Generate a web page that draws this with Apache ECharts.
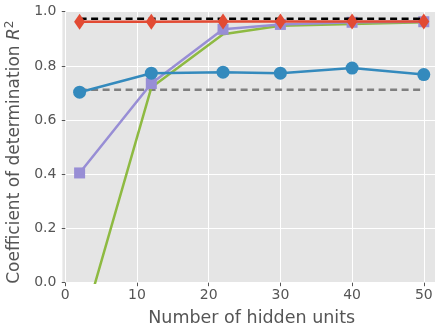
<!DOCTYPE html>
<html>
<head>
<meta charset="utf-8">
<script src="https://cdn.jsdelivr.net/npm/echarts@6/dist/echarts.min.js"></script>
<style>
  html, body { margin: 0; padding: 0; background: #ffffff; }
  #chart { width: 435px; height: 324px; }
</style>
</head>
<body>
<div id="chart"></div>
<script>
// Hidden-unit counts tried
const hiddenUnits = [2, 12, 22, 30, 40, 50];

// R^2 per model
const r2Diamond = [0.963, 0.963, 0.964, 0.964, 0.964, 0.964];
const r2Circle  = [0.703, 0.773, 0.777, 0.773, 0.792, 0.768];
const r2Square  = [0.405, 0.735, 0.935, 0.953, 0.961, 0.963];
const r2Green   = [-0.20, 0.720, 0.917, 0.948, 0.955, 0.961];

// Reference levels
const refBlack = 0.974;
const refGray  = 0.712;

const xTicks = [0, 10, 20, 30, 40, 50];

const pairs = (xs, ys) => xs.map((x, i) => [x, ys[i]]);
const flat = (v) => [[hiddenUnits[0], v], [hiddenUnits[hiddenUnits.length - 1], v]];

const TICK = '#555555';
const FONT = 'DejaVu Sans';

const chart = echarts.init(document.getElementById('chart'), null, { renderer: 'canvas' });

chart.setOption({
  animation: false,
  backgroundColor: '#ffffff',
  grid: {
    left: 62.4, right: -6, top: 11.7, bottom: 41.3,
    containLabel: false, outerBoundsMode: 'none',
    show: true, backgroundColor: '#e5e5e5', borderWidth: 0
  },
  xAxis: {
    type: 'value',
    min: -0.4, max: 52.4,
    name: 'Number of hidden units',
    nameLocation: 'middle',
    nameGap: 27,
    nameTextStyle: { color: TICK, fontFamily: FONT, fontSize: 17.5 },
    axisLine: { show: false },
    axisTick: { show: true, customValues: xTicks, length: 3.5, lineStyle: { color: TICK, width: 1 } },
    axisLabel: { customValues: xTicks, color: TICK, fontFamily: FONT, fontSize: 14, margin: 6 },
    splitLine: { show: true, lineStyle: { color: '#ffffff', width: 1 } }
  },
  yAxis: {
    type: 'value',
    min: 0, max: 1, interval: 0.2,
    name: '{a|Coefficient of determination }{i|R}{s|2}',
    nameLocation: 'middle',
    nameGap: 36,
    nameRotate: 90,
    nameTextStyle: {
      color: TICK, fontFamily: FONT, fontSize: 17,
      padding: [0, 10, 0, 0],
      rich: {
        a: { color: TICK, fontFamily: FONT, fontSize: 17, lineHeight: 22 },
        i: { color: TICK, fontFamily: FONT, fontSize: 17, fontStyle: 'italic', lineHeight: 22 },
        s: { color: TICK, fontFamily: FONT, fontSize: 12, verticalAlign: 'top', lineHeight: 22 }
      }
    },
    axisLine: { show: false },
    axisTick: { show: true, length: 3.5, lineStyle: { color: TICK, width: 1 } },
    axisLabel: {
      color: TICK, fontFamily: FONT, fontSize: 14, margin: 6,
      formatter: (v) => v.toFixed(1)
    },
    splitLine: { show: true, lineStyle: { color: '#ffffff', width: 1 } }
  },
  series: [
    {
      type: 'line', data: flat(refGray), symbol: 'none', z: 2,
      lineStyle: { color: '#7f7f7f', width: 2.5, type: [7, 4.5] }
    },
    {
      type: 'line', data: pairs(hiddenUnits, r2Green), symbol: 'none', z: 3, clip: true,
      lineStyle: { color: '#8EBA42', width: 2.5 }
    },
    {
      type: 'line', data: pairs(hiddenUnits, r2Square), symbol: 'rect', symbolSize: 11, z: 4,
      itemStyle: { color: '#988ED5' },
      lineStyle: { color: '#988ED5', width: 2.5 }
    },
    {
      type: 'line', data: pairs(hiddenUnits, r2Circle), symbol: 'circle', symbolSize: 13, z: 5,
      itemStyle: { color: '#348ABD' },
      lineStyle: { color: '#348ABD', width: 2.5 }
    },
    {
      type: 'line', data: flat(refBlack), symbol: 'none', z: 6,
      lineStyle: { color: '#000000', width: 2.5, type: [7, 4.5] }
    },
    {
      type: 'line', data: pairs(hiddenUnits, r2Diamond), symbol: 'diamond', symbolSize: [11, 16], z: 7,
      itemStyle: { color: '#E24A33' },
      lineStyle: { color: '#E24A33', width: 2.5 }
    }
  ]
});
</script>
</body>
</html>
